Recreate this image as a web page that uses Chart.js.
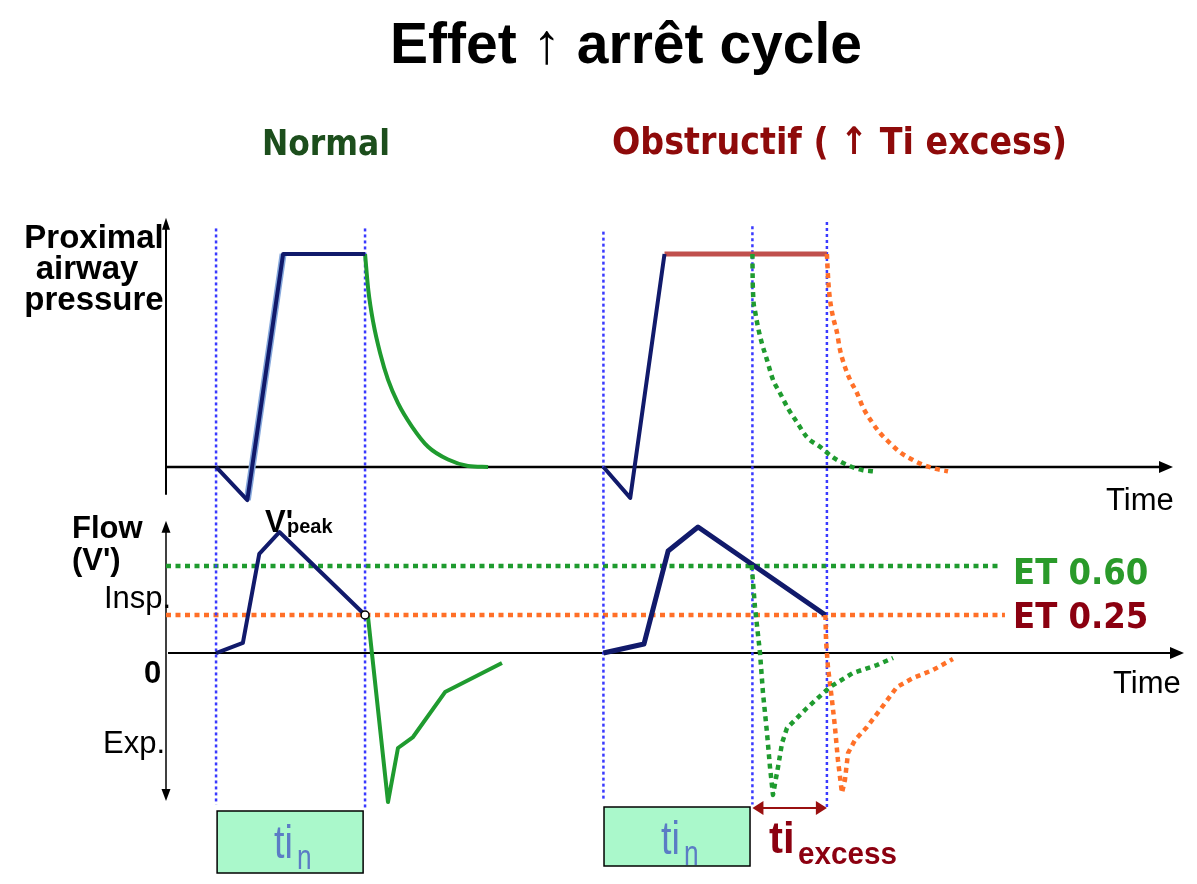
<!DOCTYPE html>
<html>
<head>
<meta charset="utf-8">
<title>Effet arrêt cycle</title>
<script src="https://cdn.jsdelivr.net/npm/chart.js@4.4.1/dist/chart.umd.min.js"></script>
<style>
  html, body { margin: 0; padding: 0; background: #fff; }
  #wrap { width: 1197px; height: 884px; }
</style>
</head>
<body>
<div id="wrap"><canvas id="Chart" width="1197" height="884"></canvas></div>
<script>
// time in s (normal Ti = 1 s), pressure in cmH2O, flow as fraction of V'peak

// cycle marks (blue dotted verticals), extents on the pressure scale
const cycleT      = [0, 1.0, 2.6, 3.6, 4.1];
const cycleTop    = [22.4, 22.4, 22.1, 22.6, 23.0];
const cycleBottom = [-31.7, -32.2, -31.3, -31.7, -32.0];

// normal breath - pressure
const normPressT = [0, 0.21, 0.45, 1.0];
const normPressP = [0, -3.1, 20, 20];
const normDecayT = [1.0, 1.022, 1.056, 1.101, 1.154, 1.221, 1.315, 1.423, 1.557, 1.691, 1.826];
const normDecayP = [20, 16.6, 13.5, 10.7, 8.2, 6.0, 3.8, 1.9, 0.7, 0.1, 0];

// obstructive breath - pressure
const obsPressT = [2.6, 2.78, 3.01];
const obsPressP = [0, -2.9, 20];
const obsPlateauT = [3.01, 4.1];
const obsPlateauP = [20, 20];
const obsGreenPT = [3.6, 3.602, 3.617, 3.638, 3.664, 3.698, 3.738, 3.785, 3.839, 3.899, 3.966, 4.054, 4.141, 4.235, 4.342, 4.409];
const obsGreenPP = [20, 17.3, 14.7, 13.1, 11.6, 10.05, 8.2, 6.95, 5.5, 4.2, 2.8, 1.9, 0.9, 0.2, -0.3, -0.4];
const obsOrangePT = [4.1, 4.11, 4.121, 4.141, 4.168, 4.188, 4.221, 4.255, 4.302, 4.342, 4.403, 4.456, 4.523, 4.59, 4.678, 4.745, 4.839, 4.913];
const obsOrangePP = [20, 17.3, 15.7, 14.1, 12.6, 11.0, 9.4, 8.2, 6.95, 5.6, 4.2, 3.2, 2.25, 1.4, 0.65, 0.2, -0.2, -0.4];

// normal breath - flow
const normInspT = [0, 0.18, 0.29, 0.425, 1.0];
const normInspF = [0, 0.085, 0.84, 1.025, 0.322];
const normExpT = [1.0, 1.02, 1.154, 1.221, 1.322, 1.537, 1.919];
const normExpF = [0.322, 0.305, -1.263, -0.805, -0.712, -0.331, -0.085];

// obstructive breath - flow
const obsInspT = [2.6, 2.872, 3.034, 3.235, 4.09];
const obsInspF = [0, 0.076, 0.864, 1.068, 0.322];
const obsGreenFT = [3.595, 3.617, 3.651, 3.671, 3.698, 3.718, 3.738, 3.772, 3.799, 3.832, 3.966, 4.121, 4.275, 4.436, 4.544];
const obsGreenFF = [0.746, 0.39, 0, -0.339, -0.678, -0.966, -1.203, -0.966, -0.763, -0.636, -0.466, -0.288, -0.169, -0.102, -0.042];
const obsOrangeFT = [4.09, 4.094, 4.107, 4.134, 4.154, 4.174, 4.201, 4.221, 4.242, 4.289, 4.369, 4.456, 4.57, 4.678, 4.812, 4.946];
const obsOrangeFF = [0.322, 0.11, -0.119, -0.398, -0.627, -0.907, -1.186, -1.076, -0.847, -0.737, -0.627, -0.483, -0.288, -0.212, -0.144, -0.051];

// expiratory trigger thresholds
const etLabels = ['ET 0.60', 'ET 0.25'];
const etLevels = [0.737, 0.322];
const etEndT   = [5.262, 5.295];

// ti boxes
const tiStart = [0.007, 2.604];
const tiEnd   = [0.987, 3.584];

const axisT = -0.336;
const NAVY = '#111a6b', GREEN = '#1f9b2f', ORANGE = '#ff7028', BLUE = '#3a3aff';
const ARIAL = "'Liberation Sans', Arial, sans-serif";
const COMIC = "'DejaVu Sans Condensed', 'DejaVu Sans', sans-serif";

function pts(ts, vs) { return ts.map((t, i) => ({x: t, y: vs[i]})); }

function line(data, color, width, axis, extra) {
  return Object.assign({
    data: data, yAxisID: axis, showLine: true, fill: false,
    borderColor: color, borderWidth: width, pointRadius: 0,
    tension: 0, borderJoinStyle: 'round'
  }, extra || {});
}
const dotted = (w, g) => ({borderDash: [w, g || w], borderCapStyle: 'butt'});

let datasets = [];
// ET thresholds
datasets.push(line(pts([axisT, etEndT[0]], [etLevels[0], etLevels[0]]), GREEN, 4.5, 'yF', Object.assign(dotted(5, 4.5), {order: 9})));
datasets.push(line(pts([axisT, etEndT[1]], [etLevels[1], etLevels[1]]), ORANGE, 4.5, 'yF', Object.assign(dotted(5, 4.5), {order: 9})));
// cycle verticals
cycleT.forEach((t, i) => {
  datasets.push(line(pts([t, t], [cycleTop[i], cycleBottom[i]]), BLUE, 2.5, 'yP', Object.assign(dotted(3), {order: 8})));
});
// pressure
datasets.push(line(pts(normPressT.slice(1, 3), normPressP.slice(1, 3)), '#86a8dc', 7, 'yP', {order: 6}));
datasets.push(line(pts(normPressT, normPressP), NAVY, 4, 'yP', {order: 5}));
datasets.push(line(pts(normDecayT, normDecayP), GREEN, 4, 'yP', {order: 5, cubicInterpolationMode: 'monotone'}));
datasets.push(line(pts(obsPressT, obsPressP), NAVY, 4, 'yP', {order: 5}));
datasets.push(line(pts(obsPlateauT, obsPlateauP), '#c0504d', 5, 'yP', {order: 5}));
datasets.push(line(pts(obsGreenPT, obsGreenPP), GREEN, 4.5, 'yP', Object.assign(dotted(5, 4.5), {order: 4, cubicInterpolationMode: 'monotone'})));
datasets.push(line(pts(obsOrangePT, obsOrangePP), ORANGE, 4.5, 'yP', Object.assign(dotted(5, 4.5), {order: 4, cubicInterpolationMode: 'monotone'})));
// flow
datasets.push(line(pts(normInspT, normInspF), NAVY, 4, 'yF', {order: 5}));
datasets.push(line(pts(normExpT, normExpF), GREEN, 4, 'yF', {order: 5}));
datasets.push(line(pts(obsInspT, obsInspF), NAVY, 5, 'yF', {order: 5}));
datasets.push(line(pts(obsGreenFT, obsGreenFF), GREEN, 4.5, 'yF', Object.assign(dotted(5, 4.5), {order: 4})));
datasets.push(line(pts(obsOrangeFT, obsOrangeFF), ORANGE, 4.5, 'yF', Object.assign(dotted(5, 4.5), {order: 4})));
// cycling point
datasets.push({data: [{x: normInspT[4], y: normInspF[4]}], yAxisID: 'yF', showLine: false,
  pointRadius: 4, pointBorderColor: '#000', pointBackgroundColor: '#fff', pointBorderWidth: 1.5, order: 1});

function arrowHead(ctx, x1, y1, x2, y2, len, half) {
  const a = Math.atan2(y2 - y1, x2 - x1);
  ctx.beginPath();
  ctx.moveTo(x2, y2);
  ctx.lineTo(x2 - len * Math.cos(a) + half * Math.sin(a), y2 - len * Math.sin(a) - half * Math.cos(a));
  ctx.lineTo(x2 - len * Math.cos(a) - half * Math.sin(a), y2 - len * Math.sin(a) + half * Math.cos(a));
  ctx.closePath();
  ctx.fill();
}
function seg(ctx, x1, y1, x2, y2, w) {
  ctx.lineWidth = w;
  ctx.beginPath(); ctx.moveTo(x1, y1); ctx.lineTo(x2, y2); ctx.stroke();
}
function text(ctx, s, x, y, font, color, align, maxW, sx) {
  ctx.save();
  ctx.font = font; ctx.fillStyle = color; ctx.textAlign = align || 'left'; ctx.textBaseline = 'alphabetic';
  ctx.translate(x, y);
  if (sx) ctx.scale(sx, 1);
  if (maxW) ctx.fillText(s, 0, 0, maxW); else ctx.fillText(s, 0, 0);
  ctx.restore();
}

const diagram = {
  id: 'diagram',
  beforeDatasetsDraw(chart) {
    const {ctx, scales: {x, yP, yF}} = chart;
    const x0 = x.getPixelForValue(axisT);
    ctx.save();
    ctx.strokeStyle = '#000'; ctx.fillStyle = '#000';
    // pressure axes
    const pTop = yP.getPixelForValue(23.4), pBot = yP.getPixelForValue(-2.6), p0 = yP.getPixelForValue(0);
    seg(ctx, x0, pBot, x0, pTop + 6, 2);
    arrowHead(ctx, x0, pBot, x0, pTop, 12, 4);
    const pEnd = x.getPixelForValue(6.423);
    seg(ctx, x0, p0, pEnd - 10, p0, 2.5);
    arrowHead(ctx, x0, p0, pEnd, p0, 14, 6);
    // flow axes
    const fTop = yF.getPixelForValue(1.12), fBot = yF.getPixelForValue(-1.255), f0 = yF.getPixelForValue(0);
    seg(ctx, x0, fTop + 6, x0, fBot - 6, 1.5);
    arrowHead(ctx, x0, fBot, x0, fTop, 12, 4.5);
    arrowHead(ctx, x0, fTop, x0, fBot, 12, 4.5);
    const fEnd = x.getPixelForValue(6.497);
    seg(ctx, x0 + 2, f0, fEnd - 10, f0, 1.8);
    arrowHead(ctx, x0, f0, fEnd, f0, 14, 6);
    ctx.restore();
  },
  afterDraw(chart) {
    const {ctx, scales: {x, yF}} = chart;
    // titles
    text(ctx, 'Effet \u2191 arrêt cycle', 626, 63, 'bold 57px ' + ARIAL, '#000', 'center', 472);
    text(ctx, 'Normal', 326, 155, 'bold 36px ' + COMIC, '#1c4e1c', 'center', 128);
    text(ctx, 'Obstructif ( \u2191 Ti excess)', 612, 154, 'bold 38px ' + COMIC, '#8e0a0a', 'left', 455);
    // axis labels
    text(ctx, 'Proximal', 94, 248, 'bold 33px ' + ARIAL, '#000', 'center');
    text(ctx, 'airway', 87, 279, 'bold 33px ' + ARIAL, '#000', 'center');
    text(ctx, 'pressure', 94, 310, 'bold 33px ' + ARIAL, '#000', 'center');
    text(ctx, 'Flow', 72, 538, 'bold 31px ' + ARIAL, '#000', 'left');
    text(ctx, "(V')", 72, 570, 'bold 31px ' + ARIAL, '#000', 'left');
    text(ctx, 'Insp.', 104, 608, '31px ' + ARIAL, '#000', 'left');
    text(ctx, '0', 144, 683, 'bold 31px ' + ARIAL, '#000', 'left');
    text(ctx, 'Exp.', 103, 753, '31px ' + ARIAL, '#000', 'left');
    text(ctx, "V'", 265, 532, 'bold 31px ' + ARIAL, '#000', 'left');
    text(ctx, 'peak', 287, 533, 'bold 20px ' + ARIAL, '#000', 'left');
    text(ctx, 'Time', 1106, 510, '31px ' + ARIAL, '#000', 'left');
    text(ctx, 'Time', 1113, 693, '31px ' + ARIAL, '#000', 'left');
    // ET labels
    text(ctx, etLabels[0], 1013, yF.getPixelForValue(etLevels[0]) + 18, 'bold 36px ' + COMIC, '#2a9a2a', 'left', 136);
    text(ctx, etLabels[1], 1013, yF.getPixelForValue(etLevels[1]) + 13, 'bold 36px ' + COMIC, '#8b0010', 'left', 138);
    // ti boxes
    const boxTop = [811, 807], boxH = [62, 59];
    tiStart.forEach((t, i) => {
      const l = x.getPixelForValue(t), r = x.getPixelForValue(tiEnd[i]);
      ctx.save();
      ctx.fillStyle = '#aaf8cb'; ctx.strokeStyle = '#000'; ctx.lineWidth = 1.5;
      ctx.fillRect(l, boxTop[i], r - l, boxH[i]);
      ctx.strokeRect(l, boxTop[i], r - l, boxH[i]);
      ctx.restore();
      text(ctx, 'ti', l + 57, boxTop[i] + 47, '46px ' + ARIAL, '#5b7cc5', 'left', null, 0.82);
      text(ctx, 'n', l + 80, boxTop[i] + 58, '35px ' + ARIAL, '#5b7cc5', 'left', null, 0.75);
    });
    // ti excess arrow
    const a1 = x.getPixelForValue(cycleT[3]), a2 = x.getPixelForValue(cycleT[4]);
    ctx.save();
    ctx.strokeStyle = '#9a1010'; ctx.fillStyle = '#9a1010';
    seg(ctx, a1 + 8, 808, a2 - 8, 808, 2);
    arrowHead(ctx, a2, 808, a1, 808, 11, 7);
    arrowHead(ctx, a1, 808, a2, 808, 11, 7);
    ctx.restore();
    text(ctx, 'ti', 769, 853, 'bold 45px ' + ARIAL, '#8c0010', 'left', null, 0.93);
    text(ctx, 'excess', 798, 864, 'bold 32px ' + ARIAL, '#8c0010', 'left', 99);
  }
};

new Chart(document.getElementById('Chart'), {
  type: 'scatter',
  data: {datasets: datasets},
  options: {
    responsive: false,
    animation: false,
    devicePixelRatio: 1,
    layout: {padding: {left: 166, right: 17, top: 215, bottom: 74}},
    plugins: {legend: {display: false}, tooltip: {enabled: false}},
    scales: {
      x: {type: 'linear', min: axisT, max: 6.47, display: false},
      yP: {type: 'linear', position: 'left', min: -32.207, max: 23.662, display: false},
      yF: {type: 'linear', position: 'left', min: -1.3305, max: 3.712, display: false}
    }
  },
  plugins: [diagram]
});
</script>
</body>
</html>
